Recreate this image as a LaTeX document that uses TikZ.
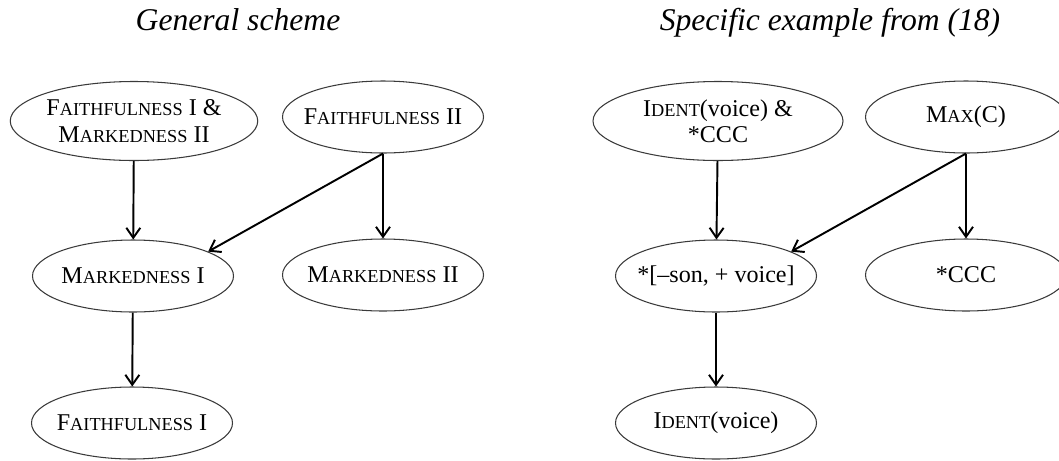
\documentclass[tikz,border=0pt]{standalone}
\usepackage{fontspec}
\setmainfont{Liberation Serif}
\usepackage{tikz}
\usetikzlibrary{arrows.meta,shapes.geometric}
\definecolor{Ink}{HTML}{000000}
\definecolor{Rim}{HTML}{3A3A3A}
% faked small capitals: first letter full size, the rest smaller
\newcommand{\fsc}[2]{#1{\fontsize{10.4}{12}\selectfont #2}}

\begin{document}
\begin{tikzpicture}[
  every node/.style={font=\fontsize{13.7}{15}\selectfont,align=center,text=Ink},
  title/.style={font=\fontsize{18}{20}\selectfont\itshape,anchor=base},
  cons/.style={draw=Rim,line width=0.6pt,ellipse,inner xsep=-3cm,inner ysep=-1cm,minimum width=4.02cm,minimum height=1.44cm},
  wide/.style={cons,minimum width=4.95cm,minimum height=1.58cm},
  arr/.style={-{Straight Barb[length=2mm,width=2.8mm]},line width=1.1pt,Ink}
]
  \useasboundingbox (0,0) rectangle (21.18,-9.2);
  % general scheme
  \node[title] (ttlgen) at (4.76,-0.6) {General scheme};
  \node[wide] (fm) at (2.68,-2.42) {\fsc{F}{AITHFULNESS} I \&\\\fsc{M}{ARKEDNESS} II};
  \node[cons] (ftwo) at (7.66,-2.34) {\fsc{F}{AITHFULNESS} II};
  \node[cons] (mone) at (2.66,-5.52) {\fsc{M}{ARKEDNESS} I};
  \node[cons] (mtwo) at (7.66,-5.50) {\fsc{M}{ARKEDNESS} II};
  \node[cons] (fone) at (2.64,-8.46) {\fsc{F}{AITHFULNESS} I};
  \draw[arr] (fm)--(mone);
  \draw[arr] (ftwo.south)--(mone.18);
  \draw[arr] (ftwo)--(mtwo);
  \draw[arr] (mone)--(fone);
  % specific example
  \node[title] (ttlspec) at (16.6,-0.6) {Specific example from (18)};
  \node[wide,minimum width=5cm] (idccc) at (14.36,-2.42) {\fsc{I}{DENT}(voice) \&\\*CCC};
  \node[cons] (maxc) at (19.32,-2.34) {\fsc{M}{AX}(C)};
  \node[cons] (sonv) at (14.32,-5.52) {*[--son, + voice]};
  \node[cons] (ccc) at (19.32,-5.50) {*CCC};
  \node[cons] (ident) at (14.32,-8.46) {\fsc{I}{DENT}(voice)};
  \draw[arr] (idccc)--(sonv);
  \draw[arr] (maxc.south)--(sonv.18);
  \draw[arr] (maxc)--(ccc);
  \draw[arr] (sonv)--(ident);
\end{tikzpicture}
\end{document}
